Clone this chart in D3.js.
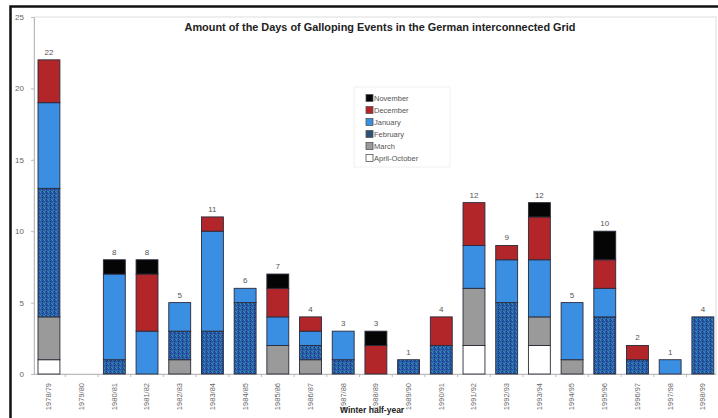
<!DOCTYPE html>
<html>
<head>
<meta charset="utf-8">
<script src="https://cdn.jsdelivr.net/npm/d3@7"></script>
<style>
  html, body { margin: 0; padding: 0; background: #fff; }
  svg { display: block; font-family: "Liberation Sans", Arial, sans-serif; }
</style>
</head>
<body>
<svg id="chart" width="718" height="418"></svg>
<script>
// Winter half-years on the x axis
const seasons = ["1978/79","1979/80","1980/81","1981/82","1982/83","1983/84","1984/85",
  "1985/86","1986/87","1987/88","1988/89","1989/90","1990/91","1991/92","1992/93",
  "1993/94","1994/95","1995/96","1996/97","1997/98","1998/99"];

// Days with galloping per month group, stacked bottom to top
const aprilOctober = [1,0,0,0,0,0,0,0,0,0,0,0,0,2,0,2,0,0,0,0,0];
const march        = [3,0,0,0,1,0,0,2,1,0,0,0,0,4,0,2,1,0,0,0,0];
const february     = [9,0,1,0,2,3,5,0,1,1,0,1,2,0,5,0,0,4,1,0,4];
const january      = [6,0,6,3,2,7,1,2,1,2,0,0,0,3,3,4,4,2,0,1,0];
const december     = [3,0,0,4,0,1,0,2,1,0,2,0,2,3,1,3,0,2,1,0,0];
const november     = [0,0,1,1,0,0,0,1,0,0,1,0,0,0,0,1,0,2,0,0,0];

// Totals printed above the bars
const totals = [22,null,8,8,5,11,6,7,4,3,3,1,4,12,9,12,5,10,2,1,4];

const yTicks = [0,5,10,15,20,25];

const seriesNames = ["April-October","March","February","January","December","November"];
const seriesValues = [aprilOctober, march, february, january, december, november];

const svg = d3.select("#chart");

// Speckled fill used for February
const defs = svg.append("defs");
const pat = defs.append("pattern").attr("id","speckle")
  .attr("patternUnits","userSpaceOnUse").attr("width",4).attr("height",4);
pat.append("rect").attr("width",4).attr("height",4).attr("fill","#2a5aa6");
[[0,0,"#1f9aa6"],[2,1,"#1d3590"],[1,2,"#3a80c4"],[3,3,"#20948e"],[3,0,"#2b42a0"],[0,3,"#3d78bb"],[2,3,"#1f3a8c"]]
  .forEach(([x,y,c]) => pat.append("rect").attr("x",x).attr("y",y).attr("width",1).attr("height",1).attr("fill",c));

const fills = {
  "April-October": "#ffffff",
  "March": "#9a9a9a",
  "February": "url(#speckle)",
  "January": "#3a8fe3",
  "December": "#b2262a",
  "November": "#050505"
};
const legendFills = Object.assign({}, fills, {"February": "#2e4f78"});

// Outer frame
svg.append("rect").attr("x",10.5).attr("y",6.5).attr("width",720).attr("height",420)
  .attr("fill","none").attr("stroke","#111").attr("stroke-width",2.5);

const plot = {left: 34, top: 17, right: 716, bottom: 374};

// Plot area border
svg.append("rect").attr("x",plot.left).attr("y",plot.top)
  .attr("width",plot.right-plot.left).attr("height",plot.bottom-plot.top)
  .attr("fill","none").attr("stroke","#ddd").attr("stroke-width",1);

const x = d3.scaleBand().domain(seasons).range([32.6, 719.2])
  .paddingInner(0.33).paddingOuter(0.165);
const y = d3.scaleLinear().domain([0,25]).range([plot.bottom, plot.top]);

// Y axis
const yAxis = svg.append("g").attr("transform",`translate(${plot.left},0)`)
  .call(d3.axisLeft(y).tickValues(yTicks).tickSize(3).tickPadding(7));
yAxis.select(".domain").attr("stroke","#bbb");
yAxis.selectAll(".tick line").attr("stroke","#bbb");
yAxis.selectAll(".tick text").attr("fill","#666").attr("font-size",8);

// X axis with ticks between categories
const xAxis = svg.append("g").attr("transform",`translate(0,${plot.bottom})`)
  .call(d3.axisBottom(x).tickSize(0).tickPadding(0));
xAxis.select(".domain").remove();
svg.append("line").attr("x1",plot.left).attr("x2",plot.right)
  .attr("y1",plot.bottom+0.5).attr("y2",plot.bottom+0.5).attr("stroke","#bbb");
xAxis.selectAll(".tick text")
  .attr("transform","translate(0,9) rotate(-90)")
  .attr("text-anchor","end").attr("dy","0.32em").attr("y",0).attr("x",0)
  .attr("fill","#666").attr("font-size",7.5);
svg.append("g").selectAll("line").data(seasons.slice(1)).join("line")
  .attr("x1",d => x(d) - x.step()*x.paddingInner()/2)
  .attr("x2",d => x(d) - x.step()*x.paddingInner()/2)
  .attr("y1",plot.bottom).attr("y2",plot.bottom+3).attr("stroke","#bbb");

// Stacked bars
const table = seasons.map((s,i) => {
  const row = {season: s};
  seriesNames.forEach((n,k) => row[n] = seriesValues[k][i]);
  return row;
});
const stack = d3.stack().keys(seriesNames)(table);

svg.append("g").selectAll("g").data(stack).join("g")
  .attr("fill", d => fills[d.key])
  .selectAll("rect").data(d => d.filter(p => p[1] > p[0])).join("rect")
  .attr("x", d => x(d.data.season))
  .attr("width", x.bandwidth())
  .attr("y", d => y(d[1]))
  .attr("height", d => y(d[0]) - y(d[1]))
  .attr("stroke","#2a2a3a").attr("stroke-width",0.9);

// Totals above bars
svg.append("g").selectAll("text").data(seasons.map((s,i) => ({s, t: totals[i]})).filter(d => d.t != null))
  .join("text")
  .attr("x", d => x(d.s) + x.bandwidth()/2)
  .attr("y", d => y(d.t) - 5)
  .attr("text-anchor","middle").attr("fill","#555").attr("font-size",8)
  .text(d => d.t);

// Title
svg.append("text").attr("x",380).attr("y",31).attr("text-anchor","middle")
  .attr("font-weight","bold").attr("font-size",10.9).attr("fill","#222")
  .text("Amount of the Days of Galloping Events in the German interconnected Grid");

// Axis title
svg.append("text").attr("x",340).attr("y",413).attr("font-weight","bold")
  .attr("font-size",8.5).attr("fill","#222").text("Winter half-year");

// Legend
const legendItems = seriesNames.slice().reverse();
const lg = svg.append("g").attr("transform","translate(358,90)");
lg.append("rect").attr("x",-4).attr("y",-3).attr("width",96).attr("height",80)
  .attr("fill","#fff").attr("stroke","#f0f0f0");
const li = lg.selectAll("g").data(legendItems).join("g")
  .attr("transform",(d,i) => `translate(8,${8 + i*12})`);
li.append("rect").attr("x",0).attr("y",-3.5).attr("width",7).attr("height",7)
  .attr("fill", d => legendFills[d]).attr("stroke","#555").attr("stroke-width",0.8);
li.append("text").attr("x",8).attr("y",0).attr("dy","0.35em")
  .attr("font-size",7.5).attr("fill","#555").text(d => d);
</script>
</body>
</html>
